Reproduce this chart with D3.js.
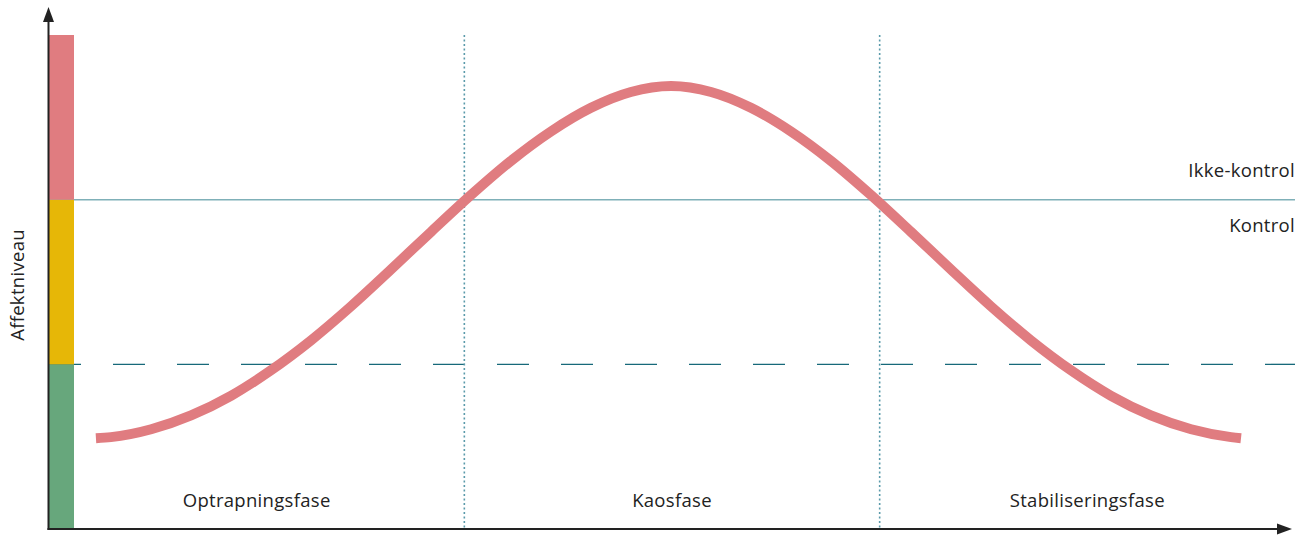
<!DOCTYPE html>
<html>
<head>
<meta charset="utf-8">
<script src="https://cdn.jsdelivr.net/npm/d3@7"></script>
<style>
  body { margin: 0; background: #fff; }
  svg { display: block; }
  text { font-family: "Open Sans", "Noto Sans", sans-serif; fill: #222; }
</style>
</head>
<body>
<svg id="chart" width="1309" height="535"></svg>
<script>
// phases along the time axis (each one unit of 100)
const phases = ["Optrapningsfase", "Kaosfase", "Stabiliseringsfase"];
const phaseBounds = [0, 100, 200, 300];

// affect zones (bottom to top)
const zones = ["lav", "Kontrol", "Ikke-kontrol"];
const zoneBounds = [0, 100, 200, 300];
const zoneColors = ["#67a77c", "#e6b707", "#e07c80"];

// affect curve
const timeVals   = [11.3, 14.9, 24.6, 34.2, 43.8, 53.4, 63.1, 72.7, 82.3, 92.0, 101.6, 111.2, 120.9, 130.5, 140.1,
                    149.8, 159.4, 169.0, 178.6, 188.3, 197.9, 207.5, 217.2, 226.8, 236.4, 246.1, 255.7, 265.3, 275.0, 284.6, 287.0];
const affectVals = [55.1, 55.8, 60.6, 69.0, 80.9, 96.3, 114.6, 135.2, 157.5, 180.5, 202.8, 223.5, 241.5, 255.8, 265.4,
                    269.0, 265.4, 255.8, 241.5, 223.5, 202.8, 180.5, 157.5, 135.2, 114.6, 96.3, 80.9, 69.0, 60.6, 55.8, 55.1];

const svg = d3.select("#chart");

const x = d3.scaleLinear().domain([0, 300]).range([49, 1295]);
const y = d3.scaleLinear().domain([0, 300]).range([529, 35]);

const axisColor = "#222";

// threshold lines (drawn first, the zone bar covers their left end)
svg.append("line")
    .attr("x1", x(0)).attr("x2", x(300))
    .attr("y1", y(200)).attr("y2", y(200))
    .attr("stroke", "#7fb0b8")
    .attr("stroke-width", 1.5);

svg.append("line")
    .attr("x1", x(0)).attr("x2", x(300))
    .attr("y1", y(100)).attr("y2", y(100))
    .attr("stroke", "#17697a")
    .attr("stroke-width", 1.3)
    .attr("stroke-dasharray", "32 32");

// phase separators
svg.append("g")
  .selectAll("line")
  .data(phaseBounds.slice(1, -1))
  .join("line")
    .attr("x1", d => x(d)).attr("x2", d => x(d))
    .attr("y1", y(300)).attr("y2", y(0))
    .attr("stroke", "#5a9aaa")
    .attr("stroke-width", 1.6)
    .attr("stroke-dasharray", "2 2.5");

// zone colour bar
svg.append("g")
  .selectAll("rect")
  .data(zones)
  .join("rect")
    .attr("x", x(0))
    .attr("width", 25)
    .attr("y", (d, i) => y(zoneBounds[i + 1]))
    .attr("height", (d, i) => y(zoneBounds[i]) - y(zoneBounds[i + 1]))
    .attr("fill", (d, i) => zoneColors[i]);

// curve
const line = d3.line()
    .x((d, i) => x(timeVals[i]))
    .y(d => y(d))
    .curve(d3.curveMonotoneX);

svg.append("path")
    .datum(affectVals)
    .attr("d", line)
    .attr("fill", "none")
    .attr("stroke", "#e07c80")
    .attr("stroke-width", 10);

// axes with arrows
svg.append("line")
    .attr("x1", 48.5).attr("x2", 48.5)
    .attr("y1", 530).attr("y2", 20)
    .attr("stroke", axisColor).attr("stroke-width", 2);
svg.append("path")
    .attr("d", "M48.5,7 L43,22 L54,22 Z")
    .attr("fill", axisColor);

svg.append("line")
    .attr("x1", 47.5).attr("x2", 1280)
    .attr("y1", 529).attr("y2", 529)
    .attr("stroke", axisColor).attr("stroke-width", 2);
svg.append("path")
    .attr("d", "M1292,529 L1277,523.5 L1277,534.5 Z")
    .attr("fill", axisColor);

// labels
const labelFont = "18.5px";

svg.append("g")
  .selectAll("text")
  .data(phases)
  .join("text")
    .attr("x", (d, i) => x((phaseBounds[i] + phaseBounds[i + 1]) / 2))
    .attr("y", 507)
    .attr("text-anchor", "middle")
    .style("font-size", labelFont)
    .style("letter-spacing", "0.3px")
    .text(d => d);

svg.append("text")
    .attr("x", 1295).attr("y", y(200) - 23)
    .attr("text-anchor", "end")
    .style("font-size", labelFont)
    .style("letter-spacing", "0.3px")
    .text("Ikke-kontrol");

svg.append("text")
    .attr("x", 1295).attr("y", y(200) + 32)
    .attr("text-anchor", "end")
    .style("font-size", labelFont)
    .style("letter-spacing", "0.3px")
    .text("Kontrol");

svg.append("text")
    .attr("transform", "translate(24,285) rotate(-90)")
    .attr("text-anchor", "middle")
    .style("font-size", labelFont)
    .style("letter-spacing", "0.3px")
    .text("Affektniveau");
</script>
</body>
</html>
